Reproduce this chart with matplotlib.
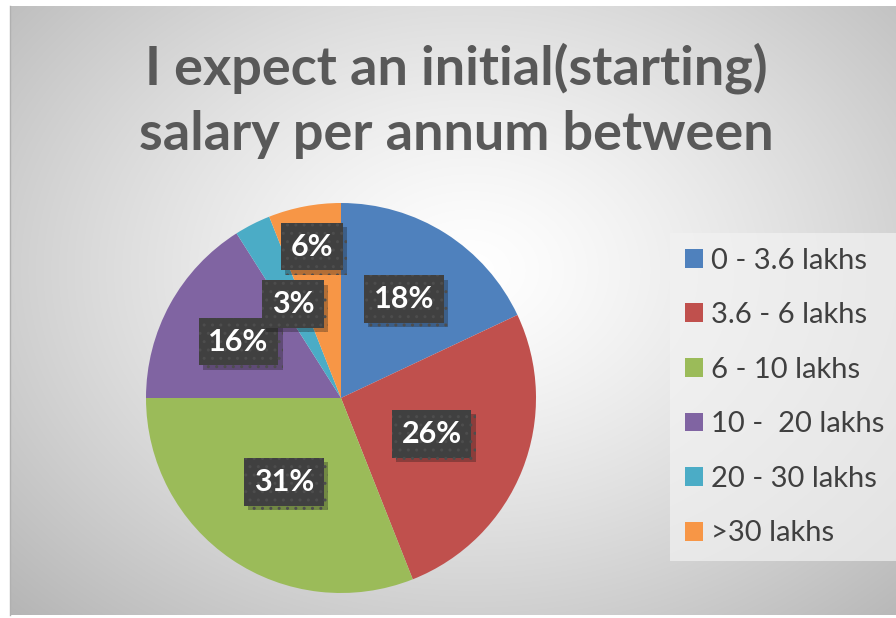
import numpy as np
import matplotlib.pyplot as plt
import matplotlib.patheffects as pe
from matplotlib.patches import Patch

# données
categories = ["0 - 3.6 lakhs", "3.6 - 6 lakhs", "6 - 10 lakhs",
              "10 -  20 lakhs", "20 - 30 lakhs", ">30 lakhs"]
valeurs = [18, 26, 31, 16, 3, 6]
etiquettes = ["18%", "26%", "31%", "16%", "3%", "6%"]
titre = "I expect an initial(starting)\nsalary per annum between"

couleurs = ["#4f81bd", "#c0504d", "#9bbb59", "#8064a2", "#4bacc6", "#f79646"]
dist_etiq = [0.60, 0.50, 0.52, 0.60, 0.54, 0.79]

plt.rcParams['font.family'] = ['Lato', 'DejaVu Sans']
W, H = 896, 618
fig = plt.figure(figsize=(W / 100, H / 100), dpi=100)

## fond dégradé
bg = fig.add_axes([0, 0, 1, 1])
yy, xx = np.mgrid[0:H, 0:W]
d = np.hypot((xx - 470) / 560, (yy - 270) / 420)
v = 1.0 - 0.24 * np.clip(d, 0, 1.3) ** 1.3
img = np.ones((H, W, 3))
img[6:615, 10:, :] = v[6:615, 10:, None]
bg.imshow(img, extent=[0, W, H, 0], aspect='auto', interpolation='bilinear')
bg.plot([10, 10], [6, 615], color="#b0b0b0", lw=1)
bg.set_xlim(0, W)
bg.set_ylim(H, 0)
bg.axis('off')

## camembert
cx, cy, R = 341, 398, 195
ax = fig.add_axes([(cx - R) / W, (H - cy - R) / H, 2 * R / W, 2 * R / H])
wedges, _ = ax.pie(valeurs, colors=couleurs, startangle=90, counterclock=False,
                   radius=1.0, wedgeprops=dict(linewidth=0))
ax.set_xlim(-1, 1)
ax.set_ylim(-1, 1)
ax.set_aspect('equal')
ax.axis('off')

for w, lab, r in zip(wedges, etiquettes, dist_etiq):
    ang = np.deg2rad((w.theta1 + w.theta2) / 2)
    x, y = r * np.cos(ang), r * np.sin(ang)
    t = ax.text(x, y, lab, fontsize=22, fontweight='bold', color='white',
                ha='center', va='center',
                bbox=dict(boxstyle='square,pad=0.32', fc='#404040', ec='#4d4d4d',
                          lw=0, hatch='..'))
    t.get_bbox_patch().set_path_effects(
        [pe.SimplePatchShadow(offset=(3, -3), alpha=0.3), pe.Normal()])

## titre
fig.text(0.509, 0.837, titre, ha='center', va='center', fontsize=39,
         fontweight='bold', color='#595959', linespacing=1.42)

## légende
poignees = [Patch(facecolor=c, edgecolor='none') for c in couleurs]
leg = fig.legend(poignees, categories, loc='center left',
                 bbox_to_anchor=(670 / W, 1 - 397 / H), fontsize=21,
                 frameon=True, fancybox=False, handlelength=0.62,
                 handleheight=0.62, handletextpad=0.3, labelspacing=0.98,
                 borderpad=0.5, borderaxespad=0)
leg.get_frame().set_facecolor('#f2f2f2')
leg.get_frame().set_edgecolor('none')
leg.get_frame().set_alpha(0.7)
for t in leg.get_texts():
    t.set_color('#404040')

fig.savefig("out.png", dpi=100)
